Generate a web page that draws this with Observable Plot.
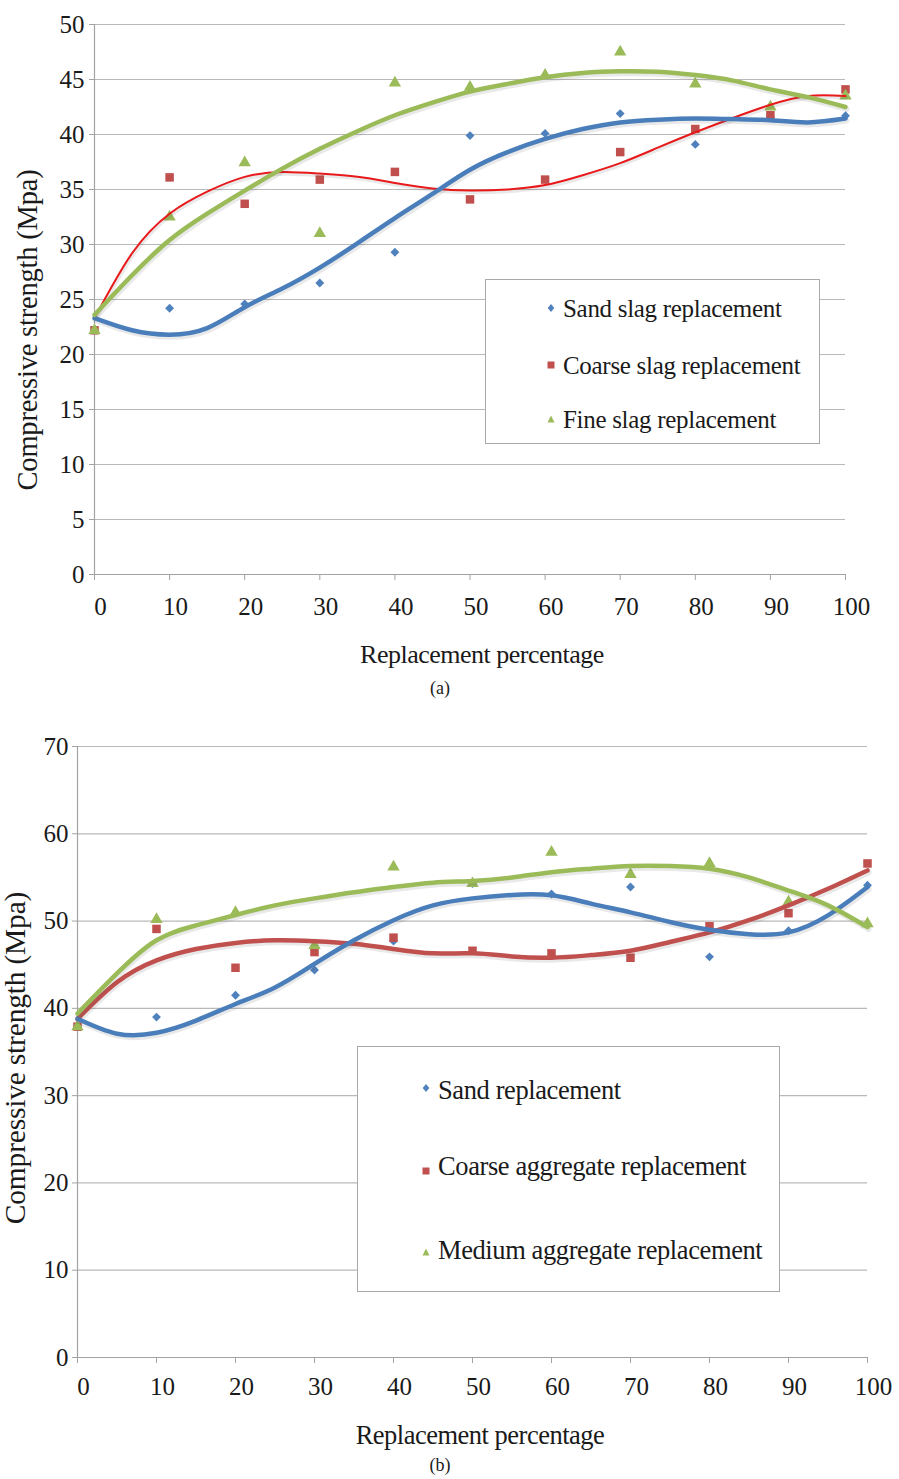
<!DOCTYPE html>
<html>
<head>
<meta charset="utf-8">
<script src="https://cdn.jsdelivr.net/npm/d3@7"></script>
<script src="https://cdn.jsdelivr.net/npm/@observablehq/plot@0.6"></script>
<style>
  body { margin: 0; background: #fff; }
  #root { position: relative; width: 899px; height: 1479px; overflow: hidden; background: #fff;
          font-family: "Liberation Serif", "Times New Roman", serif; color: #1a1a1a; }
  #root svg, #root svg text { font-family: "Liberation Serif", "Times New Roman", serif !important; }
  .chart { position: absolute; left: 0; }
  .lbl { position: absolute; white-space: nowrap; line-height: 1; transform: translate(-50%, -50%); }
  .ylbl { transform: translate(-50%, -50%) rotate(-90deg); }
  .legend { position: absolute; border: 1px solid #a9a9a9; background: #fff; box-sizing: border-box; }
  .entry { position: absolute; white-space: nowrap; line-height: 1; transform: translateY(-50%); }
  .mk { position: absolute; transform: translate(-50%, -50%); }
</style>
</head>
<body>
<div id="root"></div>
<script>
// ---------- data ----------
const pct = [0, 10, 20, 30, 40, 50, 60, 70, 80, 90, 100];
const trendPct = [0, 5, 10, 15, 20, 25, 30, 35, 40, 45, 50, 55, 60, 65, 70, 75, 80, 85, 90, 95, 100];

// chart (a)
const sandSlag   = [22.2, 24.2, 24.6, 26.5, 29.3, 39.9, 40.1, 41.9, 39.1, 41.6, 41.7];
const coarseSlag = [22.2, 36.1, 33.7, 35.9, 36.6, 34.1, 35.9, 38.4, 40.5, 41.75, 44.1];
const fineSlag   = [22.2, 32.5, 37.45, 31.0, 44.7, 44.3, 45.4, 47.5, 44.6, 42.5, 43.5];
const sandSlagTrend   = [23.3, 22.2, 21.8, 22.4, 24.3, 26.0, 27.9, 30.1, 32.4, 34.6, 36.8, 38.4, 39.6, 40.5, 41.1, 41.35, 41.45, 41.4, 41.3, 41.1, 41.45];
const coarseSlagTrend = [23.3, 29.2, 32.8, 34.8, 36.15, 36.6, 36.45, 36.15, 35.6, 35.1, 34.9, 35.0, 35.4, 36.3, 37.4, 38.8, 40.2, 41.5, 42.7, 43.5, 43.5];
const fineSlagTrend   = [23.6, 27.2, 30.4, 32.8, 34.9, 36.9, 38.7, 40.3, 41.75, 42.9, 43.9, 44.6, 45.2, 45.6, 45.75, 45.7, 45.4, 44.9, 44.1, 43.4, 42.5];
const yTicksA = [0, 5, 10, 15, 20, 25, 30, 35, 40, 45, 50];
const namesA = ["Sand slag replacement", "Coarse slag replacement", "Fine slag replacement"];

// chart (b)
const sandRep      = [37.9, 39.0, 41.5, 44.4, 47.7, 54.3, 53.1, 53.9, 45.9, 48.9, 54.1];
const coarseAggRep = [37.9, 49.1, 44.65, 46.45, 48.1, 46.6, 46.3, 45.8, 49.4, 50.9, 56.6];
const mediumAggRep = [37.9, 50.2, 51.0, 47.2, 56.2, 54.3, 57.9, 55.35, 56.6, 52.2, 49.7];
const sandRepTrend      = [38.8, 37.1, 37.2, 38.6, 40.5, 42.4, 45.1, 47.8, 50.1, 51.8, 52.6, 53.0, 52.95, 52.0, 51.0, 49.9, 49.0, 48.5, 48.7, 50.65, 53.9];
const coarseAggRepTrend = [38.8, 43.0, 45.5, 46.8, 47.5, 47.8, 47.7, 47.4, 46.8, 46.3, 46.3, 45.95, 45.8, 46.1, 46.6, 47.6, 48.7, 50.1, 51.8, 53.7, 55.8];
const mediumAggRepTrend = [39.4, 44.0, 47.8, 49.5, 50.7, 51.8, 52.6, 53.3, 53.9, 54.4, 54.6, 55.0, 55.6, 56.0, 56.3, 56.3, 56.0, 55.0, 53.5, 51.8, 49.3];
const yTicksB = [0, 10, 20, 30, 40, 50, 60, 70];
const namesB = ["Sand replacement", "Coarse aggregate replacement", "Medium aggregate replacement"];

const xLabel = "Replacement percentage";
const yLabel = "Compressive strength (Mpa)";

// ---------- styles ----------
const BLUE = "#4F81BD", RED = "#C0504D", GREEN = "#9BBB59";
const GRID = "#b9b9b9", AXIS = "#a3a3a3";
const SERIF = "'Liberation Serif', 'Times New Roman', serif";

const toPts = (xs, ys) => xs.map((x, i) => ({x, y: ys[i]}));

function makeChart(cfg) {
  const marks = [
    Plot.gridY(cfg.yTicks, {stroke: GRID, strokeOpacity: 1, strokeWidth: 1.2}),
    Plot.axisY(cfg.yTicks, {tickSize: 5, tickPadding: cfg.yPad, stroke: AXIS, fill: "#1a1a1a", label: null, fontSize: 25, fontFamily: SERIF}),
    Plot.axisX(pct, {tickSize: 6, tickPadding: cfg.xPad, stroke: AXIS, fill: "#1a1a1a", label: null, fontSize: 25, fontFamily: SERIF, text: null}),
    Plot.axisX(pct, {tickSize: 0, tickPadding: cfg.xPad + 6, fill: "#1a1a1a", label: null, fontSize: 25, fontFamily: SERIF, dx: 6}),
    Plot.ruleX([0], {stroke: AXIS, strokeWidth: 1.2}),
    Plot.ruleY([0], {stroke: AXIS, strokeWidth: 1.2})
  ];
  // markers
  marks.push(Plot.dot(toPts(pct, cfg.s[0]), {x: "x", y: "y", symbol: "diamond2", fill: BLUE, r: 4}));
  marks.push(Plot.dot(toPts(pct, cfg.s[1]), {x: "x", y: "y", symbol: "square", fill: RED, r: 4.8}));
  marks.push(Plot.dot(toPts(pct, cfg.s[2]), {x: "x", y: "y", symbol: "triangle", fill: GREEN, r: 4.6}));
  // trendlines (red, blue, green)
  const lineOrder = [
    {vals: cfg.t[1], color: cfg.redLine, w: cfg.redW},
    {vals: cfg.t[0], color: "#4A7EBB", w: 4.5},
    {vals: cfg.t[2], color: GREEN, w: 4.5}
  ];
  for (const L of lineOrder) {
    const d = toPts(trendPct, L.vals);
    marks.push(Plot.line(d, {x: "x", y: "y", stroke: "#555", strokeOpacity: 0.13, strokeWidth: L.w + 1.5, dx: 1, dy: 2, curve: "natural"}));
    marks.push(Plot.line(d, {x: "x", y: "y", stroke: L.color, strokeWidth: L.w, curve: "natural"}));
  }
  const svg = Plot.plot({
    width: 899,
    height: cfg.height,
    marginTop: cfg.mt, marginBottom: cfg.mb, marginLeft: cfg.ml, marginRight: cfg.mr,
    x: {domain: [0, 100]},
    y: {domain: cfg.yDomain},
    style: {fontFamily: SERIF, fontSize: "25px", background: "transparent", overflow: "visible", color: "#1a1a1a"},
    marks
  });
  svg.setAttribute("font-family", SERIF);
  svg.querySelectorAll("g, text, tspan").forEach(el => {
    el.style.setProperty("font-family", SERIF, "important");
    if (el.hasAttribute("font-family")) el.setAttribute("font-family", SERIF);
  });
  return svg;
}

const root = document.getElementById("root");

function place(el, top) { el.classList.add("chart"); el.style.top = top + "px"; root.appendChild(el); }

function text(str, cx, cy, size, cls, extra) {
  const d = document.createElement("div");
  d.className = "lbl" + (cls ? " " + cls : "");
  d.textContent = str;
  d.style.left = cx + "px"; d.style.top = cy + "px"; d.style.fontSize = size + "px";
  if (extra) Object.assign(d.style, extra);
  root.appendChild(d);
}

function marker(kind, color) {
  const s = document.createElementNS("http://www.w3.org/2000/svg", "svg");
  s.setAttribute("width", 10); s.setAttribute("height", 10);
  s.setAttribute("class", "mk");
  const p = document.createElementNS("http://www.w3.org/2000/svg", "path");
  p.setAttribute("fill", color);
  if (kind === "diamond") p.setAttribute("d", "M5,1 L8.3,5 L5,9 L1.7,5 Z");
  if (kind === "square") p.setAttribute("d", "M1.5,1.5 H8.5 V8.5 H1.5 Z");
  if (kind === "triangle") p.setAttribute("d", "M5,1.5 L8.5,8.5 H1.5 Z");
  s.appendChild(p);
  return s;
}

function legend(box, entries) {
  const L = document.createElement("div");
  L.className = "legend";
  Object.assign(L.style, {left: box.x + "px", top: box.y + "px", width: box.w + "px", height: box.h + "px"});
  for (const e of entries) {
    const m = marker(e.kind, e.color);
    m.style.left = box.mx + "px"; m.style.top = (e.y + (e.my || 0)) + "px";
    L.appendChild(m);
    const t = document.createElement("div");
    t.className = "entry";
    t.textContent = e.name;
    Object.assign(t.style, {left: box.tx + "px", top: e.y + "px", fontSize: box.fs + "px", letterSpacing: box.ls + "px"});
    L.appendChild(t);
  }
  root.appendChild(L);
}

// ---------- chart (a) ----------
const chartA = makeChart({
  height: 640, mt: 24, mb: 66, ml: 94, mr: 54,
  yDomain: [0, 50], yTicks: yTicksA, yPad: 5, xPad: 17,
  s: [sandSlag, coarseSlag, fineSlag],
  t: [sandSlagTrend, coarseSlagTrend, fineSlagTrend],
  redLine: "#E8191B", redW: 2
});
place(chartA, 0);
text(yLabel, 28, 330, 28.5, "ylbl", {letterSpacing: "-0.2px"});
text(xLabel, 482, 655, 26, null, {letterSpacing: "-0.5px"});
text("(a)", 440, 688, 18);
legend({x: 485, y: 279, w: 335, h: 165, mx: 65, tx: 77, fs: 25, ls: -0.3}, [
  {name: namesA[0], kind: "diamond", color: BLUE, y: 28},
  {name: namesA[1], kind: "square", color: RED, y: 85},
  {name: namesA[2], kind: "triangle", color: GREEN, y: 139}
]);

// ---------- chart (b) ----------
const chartB = makeChart({
  height: 680, mt: 26, mb: 43, ml: 77, mr: 32,
  yDomain: [0, 70], yTicks: yTicksB, yPad: 4, xPad: 14,
  s: [sandRep, coarseAggRep, mediumAggRep],
  t: [sandRepTrend, coarseAggRepTrend, mediumAggRepTrend],
  redLine: RED, redW: 4.5
});
place(chartB, 720);
text(yLabel, 16, 1058, 29.5, "ylbl", {letterSpacing: "-0.2px"});
text(xLabel, 480, 1435, 26.5, null, {letterSpacing: "-0.5px"});
text("(b)", 440, 1465, 18);
legend({x: 357, y: 1046, w: 423, h: 246, mx: 68, tx: 80, fs: 26.5, ls: -0.4}, [
  {name: namesB[0], kind: "diamond", color: BLUE, y: 43, my: -2},
  {name: namesB[1], kind: "square", color: RED, y: 119, my: 5},
  {name: namesB[2], kind: "triangle", color: GREEN, y: 203, my: 2}
]);
</script>
</body>
</html>
